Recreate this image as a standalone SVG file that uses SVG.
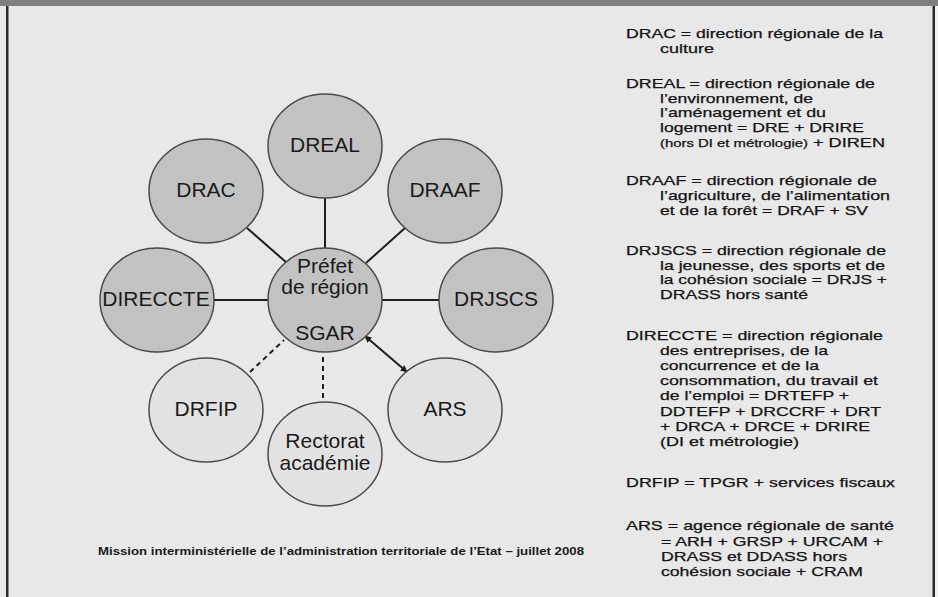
<svg xmlns="http://www.w3.org/2000/svg" width="938" height="597" viewBox="0 0 938 597">
<defs>
<marker id="ah" viewBox="0 0 10 10" refX="9" refY="5" markerWidth="7" markerHeight="7" orient="auto-start-reverse" markerUnits="userSpaceOnUse">
<path d="M0,0 L10,5 L0,10 z" fill="#1a1a1a"/>
</marker>
<style>
.dark{fill:#c2c2c2;stroke:#4a4a4a;stroke-width:1.5}
.light{fill:#e2e2e2;stroke:#4a4a4a;stroke-width:1.5}
.lbl{font-family:"Liberation Sans",Arial,sans-serif;font-size:21px;fill:#1a1a1a;text-anchor:middle}
.con{stroke:#1e1e1e;stroke-width:2;fill:none}
.dash{stroke-dasharray:5,4}
.def{font-family:"Liberation Sans",Arial,sans-serif;font-size:12.8px;fill:#141414;stroke:#141414;stroke-width:0.25}
.sm{font-size:10.5px}
.foot{font-family:"Liberation Sans",Arial,sans-serif;font-size:10.5px;font-weight:bold;fill:#1a1a1a}
</style>
</defs>
<rect x="0" y="0" width="938" height="597" fill="#e8e8e8"/>
<rect x="0" y="0" width="938" height="6" fill="#7f7f80"/>
<rect x="6" y="6" width="2.5" height="591" fill="#2a2a2a"/>
<rect x="932.5" y="6" width="2.5" height="591" fill="#2a2a2a"/>
<rect x="935" y="6" width="3" height="591" fill="#f2f2f2"/>

<g id="connectors">
<line class="con" x1="325" y1="198" x2="325" y2="249"/>
<line class="con" x1="247" y1="228" x2="287" y2="263"/>
<line class="con" x1="405" y1="228" x2="366" y2="263"/>
<line class="con" x1="213" y1="300" x2="268" y2="300"/>
<line class="con" x1="382" y1="300" x2="439" y2="300"/>
<line class="con dash" x1="250" y1="372" x2="284" y2="340"/>
<line class="con dash" x1="323" y1="357" x2="323" y2="402"/>
<line class="con" x1="365" y1="336" x2="407" y2="372" marker-start="url(#ah)" marker-end="url(#ah)"/>
</g>

<g id="node-dreal"><ellipse class="dark" cx="325" cy="146" rx="57" ry="52"/><text class="lbl" x="325" y="152">DREAL</text></g>
<g id="node-drac"><ellipse class="dark" cx="206" cy="191" rx="57" ry="52"/><text class="lbl" x="206" y="197">DRAC</text></g>
<g id="node-draaf"><ellipse class="dark" cx="445" cy="191" rx="57" ry="52"/><text class="lbl" x="445" y="197">DRAAF</text></g>
<g id="node-direccte"><ellipse class="dark" cx="157" cy="300" rx="57" ry="52"/><text class="lbl" x="156" y="306">DIRECCTE</text></g>
<g id="node-drjscs"><ellipse class="dark" cx="496" cy="300" rx="57" ry="52"/><text class="lbl" x="496" y="306">DRJSCS</text></g>
<g id="node-prefet"><ellipse class="dark" cx="325" cy="300" rx="57" ry="52"/><text class="lbl" x="325" y="273">Préfet</text><text class="lbl" x="325" y="294">de région</text><text class="lbl" x="325" y="340">SGAR</text></g>
<g id="node-drfip"><ellipse class="light" cx="206" cy="410" rx="57" ry="52"/><text class="lbl" x="206" y="416">DRFIP</text></g>
<g id="node-rectorat"><ellipse class="light" cx="325" cy="454" rx="57" ry="52"/><text class="lbl" x="325" y="448">Rectorat</text><text class="lbl" x="325" y="470">académie</text></g>
<g id="node-ars"><ellipse class="light" cx="445" cy="410" rx="57" ry="52"/><text class="lbl" x="445" y="416">ARS</text></g>

<g id="legend" class="def">
<text x="626" y="38" textLength="257" lengthAdjust="spacingAndGlyphs">DRAC = direction régionale de la</text>
<text x="660" y="53" textLength="54" lengthAdjust="spacingAndGlyphs">culture</text>

<text x="626" y="88" textLength="249" lengthAdjust="spacingAndGlyphs">DREAL = direction régionale de</text>
<text x="660" y="102.5" textLength="153" lengthAdjust="spacingAndGlyphs">l’environnement, de</text>
<text x="660" y="117" textLength="166" lengthAdjust="spacingAndGlyphs">l’aménagement et du</text>
<text x="660" y="132" textLength="204" lengthAdjust="spacingAndGlyphs">logement = DRE + DRIRE</text>
<text x="660" y="147" textLength="225" lengthAdjust="spacingAndGlyphs"><tspan class="sm">(hors DI et métrologie)</tspan> + DIREN</text>

<text x="626" y="185" textLength="251" lengthAdjust="spacingAndGlyphs">DRAAF = direction régionale de</text>
<text x="660" y="200" textLength="230" lengthAdjust="spacingAndGlyphs">l’agriculture, de l’alimentation</text>
<text x="660" y="214.5" textLength="208" lengthAdjust="spacingAndGlyphs">et de la forêt = DRAF + SV</text>

<text x="626" y="255" textLength="260" lengthAdjust="spacingAndGlyphs">DRJSCS = direction régionale de</text>
<text x="660" y="269.5" textLength="225" lengthAdjust="spacingAndGlyphs">la jeunesse, des sports et de</text>
<text x="660" y="284" textLength="227" lengthAdjust="spacingAndGlyphs">la cohésion sociale = DRJS +</text>
<text x="660" y="299" textLength="148" lengthAdjust="spacingAndGlyphs">DRASS hors santé</text>

<text x="626" y="340" textLength="257" lengthAdjust="spacingAndGlyphs">DIRECCTE = direction régionale</text>
<text x="660" y="355" textLength="168" lengthAdjust="spacingAndGlyphs">des entreprises, de la</text>
<text x="660" y="370" textLength="159" lengthAdjust="spacingAndGlyphs">concurrence et de la</text>
<text x="660" y="385" textLength="218" lengthAdjust="spacingAndGlyphs">consommation, du travail et</text>
<text x="660" y="400" textLength="189" lengthAdjust="spacingAndGlyphs">de l’emploi = DRTEFP +</text>
<text x="660" y="415.5" textLength="221" lengthAdjust="spacingAndGlyphs">DDTEFP + DRCCRF + DRT</text>
<text x="660" y="430.5" textLength="210" lengthAdjust="spacingAndGlyphs">+ DRCA + DRCE + DRIRE</text>
<text x="660" y="445.5" textLength="139" lengthAdjust="spacingAndGlyphs">(DI et métrologie)</text>

<text x="626" y="487" textLength="269" lengthAdjust="spacingAndGlyphs">DRFIP = TPGR + services fiscaux</text>

<text x="626" y="530" textLength="268" lengthAdjust="spacingAndGlyphs">ARS = agence régionale de santé</text>
<text x="661" y="546" textLength="222" lengthAdjust="spacingAndGlyphs">= ARH + GRSP + URCAM +</text>
<text x="661" y="561" textLength="186" lengthAdjust="spacingAndGlyphs">DRASS et DDASS hors</text>
<text x="661" y="576" textLength="202" lengthAdjust="spacingAndGlyphs">cohésion sociale + CRAM</text>
</g>

<text class="foot" x="98" y="555" textLength="486" lengthAdjust="spacingAndGlyphs">Mission interministérielle  de l’administration territoriale de l’Etat –  juillet 2008</text>
</svg>
